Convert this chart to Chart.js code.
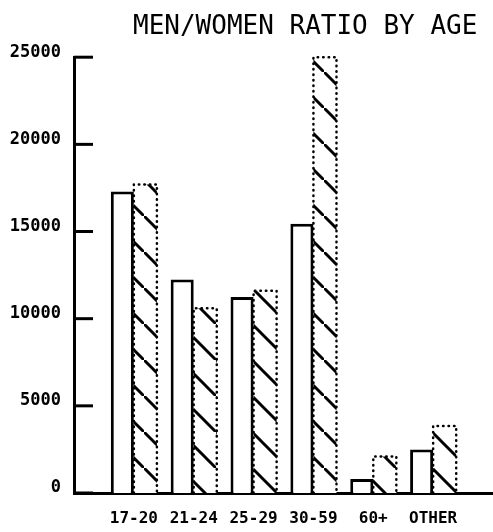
<!DOCTYPE html>
<html>
<head>
<meta charset="utf-8">
<script src="https://cdn.jsdelivr.net/npm/chart.js@4"></script>
<style>
html, body { margin: 0; padding: 0; background: #fff; }
#wrap { width: 493px; height: 532px; }
</style>
</head>
<body>
<div id="wrap"><canvas id="chart"></canvas></div>
<script>
const categories = ['17-20', '21-24', '25-29', '30-59', '60+', 'OTHER'];
const men = [17300, 12250, 11250, 15450, 800, 2500];
const women = [17700, 10600, 11600, 25000, 2100, 3850];
const yTicks = [0, 5000, 10000, 15000, 20000, 25000];

// empty slot at each end so the baseline runs past the outer groups
const labels = ['', ...categories, ''];
const pad = arr => [null, ...arr, null];

function hatch() {
    const size = 36;
    const c = document.createElement('canvas');
    c.width = size;
    c.height = size;
    const g = c.getContext('2d');
    g.fillStyle = '#fff';
    g.fillRect(0, 0, size, size);
    g.strokeStyle = '#000';
    g.lineWidth = 3;
    g.beginPath();
    g.moveTo(-4, -4);
    g.lineTo(size + 4, size + 4);
    g.stroke();
    return g.createPattern(c, 'repeat');
}

// inward y ticks + dotted outline round the hatched bars
const plotterMarks = {
    id: 'plotterMarks',
    afterDatasetsDraw(chart) {
        const { ctx, scales: { y } } = chart;
        ctx.save();
        ctx.strokeStyle = '#000';
        ctx.lineWidth = 3;
        y.ticks.forEach(t => {
            const py = y.getPixelForValue(t.value);
            ctx.beginPath();
            ctx.moveTo(y.right, py);
            ctx.lineTo(y.right + 19, py);
            ctx.stroke();
        });

        ctx.setLineDash([0.5, 5]);
        ctx.lineCap = 'round';
        ctx.lineWidth = 2.5;
        const vals = chart.data.datasets[1].data;
        chart.getDatasetMeta(1).data.forEach((bar, i) => {
            if (vals[i] == null) return;
            const l = bar.x - bar.width / 2;
            const r = bar.x + bar.width / 2;
            ctx.beginPath();
            ctx.moveTo(l, bar.base);
            ctx.lineTo(l, bar.y);
            ctx.lineTo(r, bar.y);
            ctx.lineTo(r, bar.base);
            ctx.stroke();
        });
        ctx.restore();
    }
};

new Chart(document.getElementById('chart'), {
    type: 'bar',
    data: {
        labels: labels,
        datasets: [{
            label: 'MEN',
            data: pad(men),
            backgroundColor: '#fff',
            borderColor: '#000',
            borderWidth: 3,
            borderSkipped: 'start'
        }, {
            label: 'WOMEN',
            data: pad(women),
            backgroundColor: hatch(),
            borderWidth: 0
        }]
    },
    options: {
        responsive: true,
        maintainAspectRatio: false,
        animation: false,
        categoryPercentage: 0.77,
        barPercentage: 1.0,
        layout: { padding: { left: 10, right: 0, top: 0, bottom: 0 } },
        plugins: {
            legend: { display: false },
            tooltip: { enabled: false },
            title: {
                display: true,
                text: 'MEN/WOMEN RATIO BY AGE ',
                align: 'end',
                color: '#000',
                font: { family: 'DejaVu Sans Mono', size: 26, weight: 'normal' },
                padding: { top: 12, bottom: 14 }
            }
        },
        scales: {
            x: {
                offset: false,
                grid: { display: false, drawTicks: false },
                border: { display: true, color: '#000', width: 3 },
                ticks: {
                    color: '#000',
                    padding: 16,
                    maxRotation: 0,
                    autoSkip: false,
                    font: { family: 'DejaVu Sans Mono', size: 16, weight: 'bold' }
                },
                afterFit: s => {
                    s.height = 39;
                    s.paddingLeft = 0;
                    s.paddingRight = 0;
                }
            },
            y: {
                min: 0,
                max: 25000,
                afterBuildTicks: scale => {
                    scale.ticks = yTicks.map(v => ({ value: v }));
                },
                grid: { display: false, drawTicks: false },
                border: { display: true, color: '#000', width: 3 },
                ticks: {
                    color: '#000',
                    padding: 13,
                    labelOffset: -5,
                    callback: v => String(v),
                    font: { family: 'DejaVu Sans Mono', size: 17, weight: 'bold' }
                },
                afterFit: s => {
                    s.width = 64;
                }
            }
        }
    },
    plugins: [plotterMarks]
});
</script>
</body>
</html>
